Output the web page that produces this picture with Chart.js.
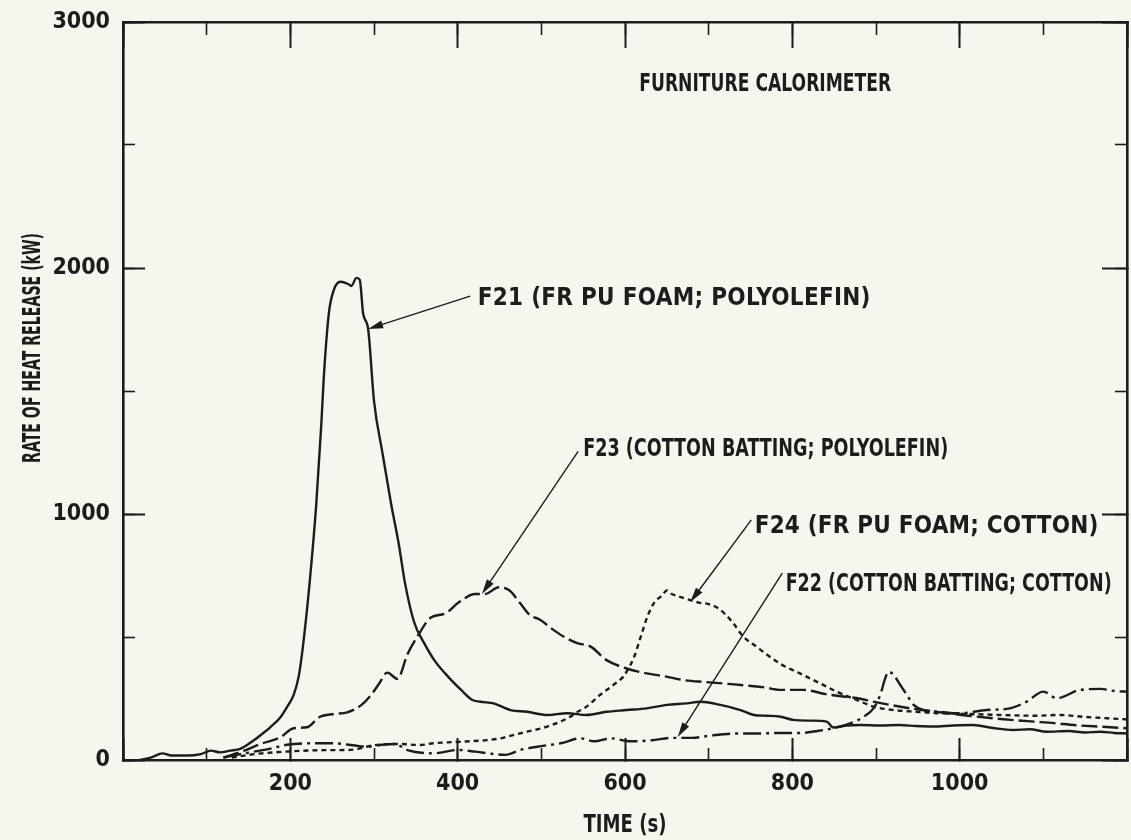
<!DOCTYPE html>
<html>
<head>
<meta charset="utf-8">
<title>Furniture Calorimeter</title>
<script src="https://cdn.jsdelivr.net/npm/chart.js"></script>
<style>
  html, body { margin: 0; padding: 0; background: #f6f6ee; }
  #chart { display: block; }
</style>
</head>
<body>
<canvas id="chart" width="1131" height="840"></canvas>
<script>
// values: time (s) and rate of heat release (kW)
const f21Time = [20, 35, 47, 58, 77, 93, 105, 116, 128, 140, 156, 166, 176, 188, 196, 204, 210, 215, 223, 231, 237, 240, 246, 252, 260, 269, 273, 279, 283, 287, 293, 300, 310, 320, 330, 337, 348, 360, 372, 389, 405, 417, 427, 443, 463, 483, 507, 531, 554, 578, 602, 626, 650, 674, 690, 714, 738, 754, 770, 786, 801, 821, 841, 849, 865, 881, 905, 928, 948, 968, 992, 1016, 1040, 1064, 1084, 1104, 1130, 1150, 1168, 1185, 1200];
const f21Hrr = [0, 12, 27, 18, 18, 24, 38, 31, 38, 45, 79, 105, 133, 173, 215, 265, 340, 460, 718, 1040, 1363, 1556, 1815, 1911, 1944, 1935, 1927, 1960, 1952, 1815, 1752, 1460, 1250, 1050, 870, 720, 560, 475, 406, 337, 282, 245, 237, 230, 203, 196, 183, 190, 183, 196, 203, 210, 224, 230, 237, 224, 203, 183, 180, 176, 163, 160, 156, 132, 140, 142, 140, 142, 138, 136, 140, 142, 130, 122, 125, 115, 118, 112, 115, 110, 108];

const f22Time = [120, 150, 175, 196, 230, 252, 275, 292, 310, 325, 340, 371, 401, 421, 457, 475, 495, 523, 547, 563, 583, 607, 632, 656, 680, 704, 737, 761, 786, 810, 830, 850, 870, 885, 897, 905, 911, 915, 921, 929, 937, 945, 957, 977, 1000, 1032, 1060, 1080, 1100, 1116, 1144, 1168, 1186, 1200];
const f22Hrr = [10, 30, 45, 62, 68, 68, 60, 54, 62, 65, 40, 27, 41, 34, 21, 41, 54, 68, 88, 76, 88, 76, 80, 90, 90, 100, 108, 108, 110, 110, 118, 130, 150, 175, 210, 264, 332, 359, 346, 305, 264, 224, 203, 196, 190, 203, 210, 237, 278, 251, 285, 289, 280, 278];

const f23Time = [120, 145, 164, 188, 204, 220, 235, 252, 268, 284, 296, 306, 316, 328, 340, 352, 368, 385, 401, 421, 433, 449, 462, 474, 486, 498, 514, 526, 543, 559, 578, 602, 626, 648, 672, 696, 721, 745, 765, 786, 813, 840, 861, 880, 897, 920, 941, 963, 985, 1010, 1041, 1065, 1089, 1113, 1137, 1170, 1200];
const f23Hrr = [10, 38, 65, 92, 129, 133, 175, 187, 194, 221, 262, 310, 355, 330, 430, 503, 579, 595, 640, 675, 675, 702, 689, 640, 590, 571, 530, 503, 475, 461, 406, 372, 352, 340, 324, 317, 310, 303, 296, 285, 285, 268, 258, 250, 237, 222, 210, 200, 190, 180, 169, 162, 156, 150, 142, 135, 129];

const f24Time = [130, 160, 200, 240, 271, 300, 330, 355, 371, 407, 435, 451, 459, 483, 507, 531, 543, 554, 570, 586, 598, 603, 611, 619, 627, 635, 644, 650, 656, 668, 688, 700, 713, 729, 741, 757, 773, 786, 809, 833, 853, 877, 897, 921, 948, 976, 1000, 1030, 1060, 1090, 1120, 1150, 1175, 1200];
const f24Hrr = [10, 25, 35, 40, 41, 60, 65, 61, 68, 75, 81, 88, 95, 115, 136, 169, 195, 217, 264, 305, 339, 365, 420, 503, 585, 640, 668, 689, 675, 661, 640, 634, 613, 558, 503, 461, 420, 390, 352, 312, 278, 244, 217, 203, 196, 190, 188, 185, 182, 180, 183, 175, 170, 165];

const xLabels = [200, 400, 600, 800, 1000];
const yLabels = [0, 1000, 2000, 3000];

// labels drawn on the plot, placed in data units (s, kW)
const notes = [
  { text: 'FURNITURE CALORIMETER', t: 617, q: 2756, w: 252 },
  { text: 'F21 (FR PU FOAM; POLYOLEFIN)', t: 424, q: 1886, w: 393, from: [415, 1886], to: [293, 1752] },
  { text: 'F23 (COTTON BATTING; POLYOLEFIN)', t: 550, q: 1272, w: 365, from: [544, 1255], to: [429, 675] },
  { text: 'F24 (FR PU FOAM; COTTON)', t: 755, q: 959, w: 344, from: [751, 976], to: [678, 642] },
  { text: 'F22 (COTTON BATTING; COTTON)', t: 792, q: 724, w: 326, from: [788, 760], to: [663, 93] }
];

const INK = '#1c1c1c';
const FONT = '"Liberation Sans Narrow", "DejaVu Sans Condensed", "Liberation Sans", sans-serif';

function pts(ts, vs) {
  return ts.map((t, i) => ({ x: t, y: vs[i] }));
}

function fitText(ctx, text, x, y, width) {
  ctx.save();
  if ('letterSpacing' in ctx) ctx.letterSpacing = '0px';
  const w = ctx.measureText(text).width;
  if (w > width || !('letterSpacing' in ctx)) {
    ctx.translate(x, y);
    ctx.scale(width / w, 1);
    ctx.fillText(text, 0, 0);
  } else {
    ctx.letterSpacing = ((width - w) / text.length) + 'px';
    ctx.fillText(text, x, y);
  }
  ctx.restore();
}

function arrow(ctx, x1, y1, x2, y2) {
  const a = Math.atan2(y2 - y1, x2 - x1);
  ctx.beginPath();
  ctx.moveTo(x1, y1);
  ctx.lineTo(x2 - 10 * Math.cos(a), y2 - 10 * Math.sin(a));
  ctx.stroke();
  ctx.beginPath();
  ctx.moveTo(x2, y2);
  ctx.lineTo(x2 - 15 * Math.cos(a) + 4 * Math.sin(a), y2 - 15 * Math.sin(a) - 4 * Math.cos(a));
  ctx.lineTo(x2 - 15 * Math.cos(a) - 4 * Math.sin(a), y2 - 15 * Math.sin(a) + 4 * Math.cos(a));
  ctx.closePath();
  ctx.fill();
}

const notesPlugin = {
  id: 'notes',
  afterDatasetsDraw(chart) {
    const ctx = chart.ctx;
    const xs = chart.scales.x, ys = chart.scales.y;
    const size = 24;
    ctx.save();
    ctx.fillStyle = INK;
    ctx.strokeStyle = INK;
    ctx.lineWidth = 1.4;
    ctx.font = 'bold ' + size + 'px ' + FONT;
    ctx.textAlign = 'left';
    ctx.textBaseline = 'alphabetic';
    const capHalf = size * 0.36;
    notes.forEach(n => {
      fitText(ctx, n.text, xs.getPixelForValue(n.t), ys.getPixelForValue(n.q) + capHalf, n.w);
      if (n.from) {
        arrow(ctx, xs.getPixelForValue(n.from[0]), ys.getPixelForValue(n.from[1]),
                   xs.getPixelForValue(n.to[0]), ys.getPixelForValue(n.to[1]));
      }
    });
    // axis titles
    const area = chart.chartArea;
    const tw = 83;
    fitText(ctx, 'TIME (s)', (area.left + area.right) / 2 - tw / 2, 823 + capHalf, tw);
    ctx.translate(31 + capHalf, ys.getPixelForValue(1675));
    ctx.rotate(-Math.PI / 2);
    fitText(ctx, 'RATE OF HEAT RELEASE (kW)', -115, 0, 230);
    ctx.restore();
  }
};

const tickFont = { family: FONT, size: 23, weight: 'bold' };

function majorGrid(len) {
  return { drawOnChartArea: false, drawTicks: true, tickLength: -len, tickWidth: 2, tickColor: INK };
}
function minorGrid(len) {
  return { drawOnChartArea: false, drawTicks: true, tickLength: -len, tickWidth: 1.6, tickColor: INK };
}
const frame = { display: true, width: 2.6, color: INK };
const noBorder = { display: false };

// fixed box sizes so the plot frame sits where the original one is
function sized(w, h) {
  return s => {
    if (w !== null) s.width = w;
    if (h !== null) s.height = h;
    s.paddingLeft = 0; s.paddingRight = 0; s.paddingTop = 0; s.paddingBottom = 0;
  };
}

new Chart(document.getElementById('chart').getContext('2d'), {
  type: 'line',
  data: {
    datasets: [
      { label: 'F21 (FR PU FOAM; POLYOLEFIN)', data: pts(f21Time, f21Hrr), borderDash: [] },
      { label: 'F22 (COTTON BATTING; COTTON)', data: pts(f22Time, f22Hrr), borderDash: [18, 5, 3, 5] },
      { label: 'F23 (COTTON BATTING; POLYOLEFIN)', data: pts(f23Time, f23Hrr), borderDash: [16, 5] },
      { label: 'F24 (FR PU FOAM; COTTON)', data: pts(f24Time, f24Hrr), borderDash: [5, 4] }
    ].map(d => Object.assign(d, {
      borderColor: INK, borderWidth: 2.4, pointRadius: 0, fill: false,
      cubicInterpolationMode: 'monotone', xAxisID: 'x', yAxisID: 'y'
    }))
  },
  options: {
    responsive: false,
    animation: false,
    layout: { padding: 0 },
    plugins: { legend: { display: false }, tooltip: { enabled: false } },
    scales: {
      x: {
        type: 'linear', position: 'bottom', min: 0, max: 1200, weight: 1,
        ticks: {
          stepSize: 200, autoSkip: false, maxRotation: 0, padding: 32,
          font: tickFont, color: INK,
          callback: v => xLabels.includes(v) ? String(v) : ''
        },
        grid: majorGrid(22), border: frame,
        afterFit: sized(null, 80)
      },
      xMinor: {
        type: 'linear', position: 'bottom', min: 0, max: 1200, weight: 0,
        ticks: { stepSize: 100, display: false },
        grid: minorGrid(12), border: noBorder,
        afterFit: sized(null, 0)
      },
      xTop: {
        type: 'linear', position: 'top', min: 0, max: 1200, weight: 1,
        ticks: { stepSize: 200, display: false },
        grid: majorGrid(26), border: frame,
        afterFit: sized(null, 22)
      },
      xTopMinor: {
        type: 'linear', position: 'top', min: 0, max: 1200, weight: 0,
        ticks: { stepSize: 100, display: false },
        grid: minorGrid(13), border: noBorder,
        afterFit: sized(null, 0)
      },
      y: {
        type: 'linear', position: 'left', min: 0, max: 3000, weight: 1,
        ticks: {
          stepSize: 1000, padding: 35, font: tickFont, color: INK,
          callback: v => yLabels.includes(v) ? String(v) : ''
        },
        grid: majorGrid(22), border: frame,
        afterFit: sized(123, null)
      },
      yMinor: {
        type: 'linear', position: 'left', min: 0, max: 3000, weight: 0,
        ticks: { stepSize: 500, display: false },
        grid: minorGrid(12), border: noBorder,
        afterFit: sized(0, null)
      },
      yRight: {
        type: 'linear', position: 'right', min: 0, max: 3000, weight: 1,
        ticks: { stepSize: 1000, display: false },
        grid: majorGrid(25), border: frame,
        afterFit: sized(4, null)
      },
      yRightMinor: {
        type: 'linear', position: 'right', min: 0, max: 3000, weight: 0,
        ticks: { stepSize: 500, display: false },
        grid: minorGrid(12), border: noBorder,
        afterFit: sized(0, null)
      }
    }
  },
  plugins: [notesPlugin]
});
</script>
</body>
</html>
